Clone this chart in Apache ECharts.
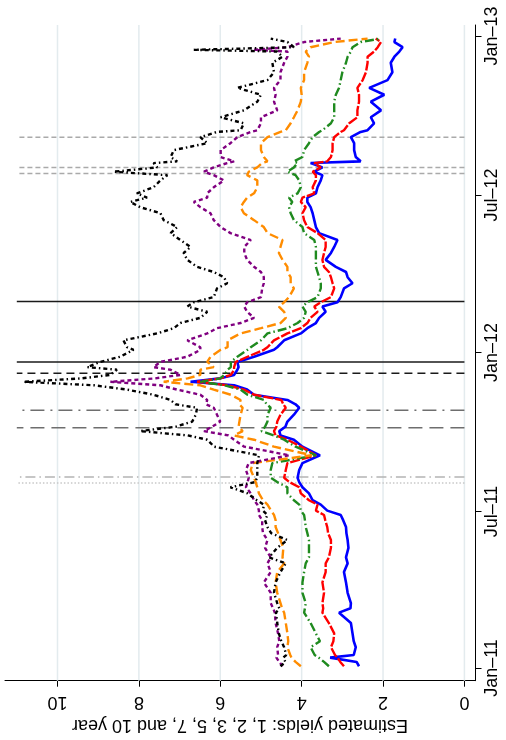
<!DOCTYPE html>
<html>
<head>
<meta charset="utf-8">
<script src="https://cdn.jsdelivr.net/npm/echarts@6/dist/echarts.min.js"></script>
<style>
html,body{margin:0;padding:0;background:#fff;}
#chart{width:506px;height:740px;}
</style>
</head>
<body>
<div id="chart"></div>
<script>
// ---- data ----
const dates = [
'2011-01-03','2011-01-08','2011-01-13','2011-01-16','2011-01-25','2011-02-01','2011-02-10','2011-02-22',
'2011-03-06','2011-03-11','2011-03-17','2011-03-29','2011-04-10','2011-04-22','2011-05-02','2011-05-09',
'2011-05-20','2011-05-29','2011-06-06','2011-06-13','2011-06-21','2011-06-27','2011-07-02','2011-07-09',
'2011-07-14','2011-07-22','2011-07-29','2011-08-04','2011-08-09','2011-08-18','2011-08-26','2011-09-04',
'2011-09-14','2011-09-22','2011-09-27','2011-10-02','2011-10-07','2011-10-13','2011-10-21','2011-10-29',
'2011-11-02','2011-11-07','2011-11-13','2011-11-19','2011-11-24','2011-11-28','2011-12-02','2011-12-06',
'2011-12-12','2011-12-15','2011-12-21','2011-12-27','2012-01-04','2012-01-07','2012-01-15','2012-01-23',
'2012-01-29','2012-02-04','2012-02-10','2012-02-17','2012-02-23','2012-02-28','2012-03-05','2012-03-15',
'2012-03-21','2012-03-28','2012-04-03','2012-04-09','2012-04-17','2012-04-25','2012-05-02','2012-05-10',
'2012-05-18','2012-05-25','2012-06-02','2012-06-10','2012-06-17','2012-06-23','2012-06-28','2012-07-03',
'2012-07-10','2012-07-18','2012-07-24','2012-07-28','2012-08-02','2012-08-07','2012-08-09','2012-08-14',
'2012-08-22','2012-08-30','2012-09-06','2012-09-12','2012-09-14','2012-09-22','2012-09-29','2012-10-07',
'2012-10-17','2012-10-25','2012-11-02','2012-11-11','2012-11-20','2012-12-01','2012-12-08','2012-12-14',
'2012-12-16','2012-12-19','2012-12-25','2012-12-29'
];
const yield1 = [
2.59,2.65,3.30,2.72,2.67,2.72,2.75,2.79, 3.08,2.80,2.79,2.87,2.91,2.96,2.87,2.91,
2.85,2.87,2.90,2.91,2.98,3.04,3.37,3.53, 3.73,3.82,3.98,4.06,4.10,4.06,3.98,3.55,
3.98,4.19,4.52,4.55,4.40,4.35,4.19,4.06, 4.15,4.35,5.17,5.34,5.66,6.73,6.00,5.66,
5.58,5.55,5.58,5.17,4.68,4.60,4.43,4.02, 3.86,3.65,3.57,3.41,3.49,3.12,3.04,2.96,
2.75,2.87,2.91,3.16,3.41,3.28,3.20,3.12, 3.57,3.65,3.69,3.73,3.78,3.86,3.86,3.65,
3.61,3.53,3.49,3.69,3.49,3.78,2.55,2.67, 2.71,2.71,2.79,2.55,2.38,2.22,2.30,2.05,
2.30,1.97,2.34,1.89,1.77,1.81,1.72,1.60, 1.62,1.52,1.72,1.70
];
const yield2 = [
2.96,3.05,3.12,3.18,3.28,3.22,3.20,3.33, 3.49,3.47,3.49,3.45,3.49,3.41,3.41,3.33,
3.28,3.28,3.35,3.37,3.42,3.45,3.65,3.61, 3.82,4.02,4.06,4.30,4.43,4.39,4.35,3.65,
4.02,4.35,4.64,4.68,4.62,4.60,4.52,4.39, 4.45,4.50,5.17,5.42,5.82,6.57,6.00,5.74,
5.66,5.66,5.62,5.33,4.93,4.84,4.68,4.35, 4.02,3.86,3.78,3.61,3.69,3.53,3.28,3.20,
3.24,3.28,3.33,3.45,3.49,3.45,3.41,3.41, 3.61,3.86,3.94,3.98,3.90,4.02,3.98,3.69,
3.73,3.65,3.65,3.73,3.53,3.69,3.37,3.28, 3.24,3.24,3.20,3.04,2.96,2.83,2.63,2.63,
2.59,2.59,2.63,2.50,2.42,2.38,2.38,2.22, 2.20,2.13,2.05,2.18
];
const yield3 = [
3.33,3.45,3.58,3.68,3.78,3.55,3.65,3.78, 3.94,3.92,3.90,3.98,3.98,3.94,3.90,3.82,
3.82,3.82,3.86,3.90,3.92,3.94,4.02,4.06, 4.19,4.35,4.35,4.60,4.76,4.76,4.72,3.65,
4.15,4.43,4.68,4.99,4.90,4.84,4.84,4.76, 4.86,4.93,5.33,5.50,5.90,6.49,6.00,5.90,
5.82,5.74,5.74,5.58,5.33,5.25,5.00,4.84, 4.35,4.10,3.94,3.90,3.98,3.86,3.61,3.53,
3.53,3.57,3.61,3.65,3.65,3.65,3.65,3.69, 3.94,3.98,4.19,4.27,4.31,4.23,4.31,4.10,
4.02,4.06,4.15,4.35,4.19,4.10,4.19,3.98, 3.94,3.82,3.73,3.57,3.49,3.28,3.20,3.20,
3.20,3.16,3.08,3.04,3.00,2.91,2.87,2.79, 2.78,2.75,2.55,2.05
];
const yield5 = [
4.02,4.15,4.25,4.28,4.35,4.33,4.35,4.39, 4.43,4.48,4.52,4.60,4.64,4.60,4.43,4.47,
4.45,4.52,4.58,4.64,4.64,4.68,4.75,4.84, 4.95,5.05,5.09,5.13,5.17,5.25,5.20,3.75,
4.68,5.17,5.66,5.45,5.55,5.53,5.50,5.45, 5.53,5.50,5.74,6.16,6.49,7.39,6.80,6.49,
6.49,6.16,6.32,6.24,5.99,5.82,5.82,5.50, 5.00,4.52,4.39,4.43,4.56,4.43,4.31,4.19,
4.27,4.27,4.35,4.35,4.47,4.56,4.52,4.47, 4.84,4.93,5.17,5.42,5.50,5.42,5.34,5.17,
5.09,5.09,5.34,5.30,5.09,4.97,4.84,4.93, 5.00,5.00,4.84,4.52,4.39,4.27,4.19,4.10,
4.02,4.00,4.02,3.94,3.94,3.86,3.82,3.90, 3.88,3.78,3.20,2.38
];
const yield7 = [
4.47,4.55,4.62,4.58,4.60,4.55,4.58,4.64, 4.66,4.70,4.76,4.76,4.93,4.76,4.84,4.76,
4.90,4.84,4.95,4.97,4.97,5.05,5.05,5.09, 5.17,5.25,5.37,5.33,5.30,5.37,5.30,4.30,
5.41,5.66,5.80,6.40,6.20,6.00,6.08,6.16, 6.35,6.32,6.49,7.06,7.47,8.70,7.60,6.98,
7.22,7.64,7.47,6.81,6.49,6.49,6.81,6.32, 6.08,5.50,5.17,5.34,5.41,5.34,5.00,4.97,
4.93,4.93,5.00,5.17,5.34,5.41,5.41,5.25, 5.75,5.99,6.16,6.24,6.49,6.65,6.32,6.32,
6.16,5.91,6.16,6.40,6.16,5.83,5.66,5.99, 5.99,5.75,5.58,5.25,5.09,5.00,5.00,4.60,
4.68,4.64,4.68,4.52,4.52,4.43,4.35,4.35, 5.17,4.35,3.94,3.04
];
const yield10 = [
4.52,4.40,4.45,4.38,4.43,4.50,4.56,4.60, 4.63,4.55,4.60,4.68,4.64,4.52,4.39,4.80,
4.60,4.35,4.75,4.84,4.90,4.84,4.95,4.93, 5.10,5.33,5.75,5.15,5.09,5.09,5.09,5.05,
6.15,6.32,6.80,7.97,7.10,6.69,6.60,6.57, 7.10,7.22,7.64,8.29,9.11,10.84,9.40,8.70,
8.54,9.27,8.95,8.46,8.13,8.29,8.38,7.55, 7.14,6.98,6.49,6.32,6.81,6.65,6.16,6.08,
5.83,5.91,6.16,6.57,6.81,6.90,6.73,6.98, 7.22,7.06,7.39,7.47,7.97,8.21,7.80,8.05,
7.64,7.47,7.30,8.62,7.55,7.64,7.06,7.22, 7.14,6.32,6.49,6.08,5.50,5.42,5.99,5.42,
5.09,5.00,5.58,4.84,4.68,4.72,4.47,4.60, 6.65,4.19,4.35,4.76
];
const eventDates = ['2011-08-03','2011-08-10','2011-10-06','2011-10-26','2011-12-08','2011-12-21','2012-02-29','2012-07-26','2012-08-02','2012-09-06'];
const gridValues = [0, 2, 4, 6, 8, 10];
const tickDates = ['2011-01-01','2011-07-01','2012-01-01','2012-07-01','2013-01-01'];
const tickLabels = ['Jan\u201311','Jul\u201311','Jan\u201312','Jul\u201312','Jan\u201313'];
const axisTitle = 'Estimated yields: 1, 2, 3, 5, 7, and 10 year';

// ---- build ----
const DAY = 86400000;
const T = d => Date.parse(d);
const tMin = T('2011-01-01') - 14.7 * DAY;
const tMax = T('2013-01-01') + 12.7 * DAY;
const tickTimes = tickDates.map(T);
const yMin = -0.26, yMax = 11.29;
const eventSpan = [0, 11];

const eventStyles = [
  {color:'#c8c8c8', width:1.5, type:[1.5,2]},
  {color:'#b4b4b4', width:1.5, type:[10,4,1.5,4]},
  {color:'#6e6e6e', width:1.5, type:[14,7]},
  {color:'#6e6e6e', width:1.5, type:[14,6,2,6]},
  {color:'#1a1a1a', width:1.5, type:[8,5]},
  {color:'#1a1a1a', width:1.5, type:'solid'},
  {color:'#1a1a1a', width:1.5, type:'solid'},
  {color:'#aaaaaa', width:1.5, type:[5,3]},
  {color:'#aaaaaa', width:1.5, type:[5,3]},
  {color:'#aaaaaa', width:1.5, type:[5,3]}
];

const seriesDefs = [
  {name:'1 year', data:yield1, color:'#0000ff', width:2.6, type:'solid'},
  {name:'2 year', data:yield2, color:'#ff0000', width:2.4, type:[10,2]},
  {name:'3 year', data:yield3, color:'#1f8a1f', width:2.4, type:[9,3,1.5,3]},
  {name:'5 year', data:yield5, color:'#ff8c00', width:2.4, type:[9,4]},
  {name:'7 year', data:yield7, color:'#800080', width:2.4, type:[4,3]},
  {name:'10 year', data:yield10, color:'#000000', width:2.4, type:[4,3,1.5,3]}
];

const series = [];
gridValues.forEach(v => {
  series.push({type:'line', silent:true, symbol:'none', z:1,
    data:[[v, tMin],[v, tMax]],
    lineStyle:{color:'#e3ebee', width:1.5}});
});
eventDates.forEach((d, i) => {
  series.push({type:'line', silent:true, symbol:'none', z:2,
    data:[[eventSpan[0], T(d)],[eventSpan[1], T(d)]],
    lineStyle:eventStyles[i]});
});
seriesDefs.forEach(s => {
  series.push({type:'line', name:s.name, symbol:'none', z:3,
    data:s.data.map((v, i) => [v, T(dates[i])]),
    lineStyle:{color:s.color, width:s.width, type:s.type}});
});

const chart = echarts.init(document.getElementById('chart'), null, {renderer:'canvas'});
chart.setOption({
  animation:false,
  backgroundColor:'#ffffff',
  textStyle:{fontFamily:'Liberation Sans, Arial, sans-serif'},
  grid:{left:5, right:31, top:25, bottom:59.3, containLabel:false},
  xAxis:{
    type:'value', inverse:true, min:yMin, max:yMax, position:'bottom',
    axisLine:{show:true, onZero:false, lineStyle:{color:'#000', width:1}},
    axisTick:{show:true, customValues:gridValues, length:6, lineStyle:{color:'#000', width:1}},
    axisLabel:{show:true, customValues:gridValues, rotate:180, margin:12, fontSize:18, color:'#000',
      fontFamily:'Liberation Sans', formatter:v => String(v)},
    splitLine:{show:false},
    name:axisTitle, nameLocation:'middle', nameRotate:180, nameGap:33,
    nameTextStyle:{fontSize:18, color:'#000', fontFamily:'Liberation Sans'}
  },
  yAxis:{
    type:'value', min:tMin, max:tMax, position:'right',
    axisLine:{show:true, onZero:false, lineStyle:{color:'#000', width:1}},
    axisTick:{show:true, customValues:tickTimes, length:6.5, lineStyle:{color:'#000', width:1}},
    axisLabel:{show:true, customValues:tickTimes, rotate:90, margin:8, fontSize:18, color:'#000',
      fontFamily:'Liberation Sans',
      formatter:v => { const i = tickTimes.findIndex(t => Math.abs(t - v) < DAY); return i >= 0 ? tickLabels[i] : ''; }},
    splitLine:{show:false}
  },
  series:series
});
</script>
</body>
</html>
